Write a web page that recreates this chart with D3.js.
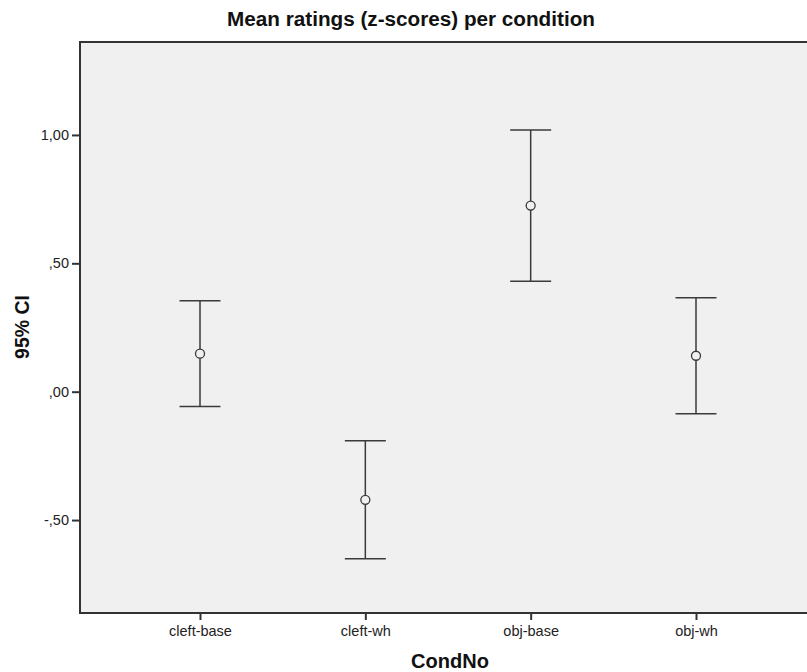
<!DOCTYPE html>
<html>
<head>
<meta charset="utf-8">
<script src="https://cdn.jsdelivr.net/npm/d3@7"></script>
<style>
  body { margin: 0; background: #fff; }
  svg { display: block; font-family: Arial, "Liberation Sans", sans-serif; }
</style>
</head>
<body>
<div id="chart"></div>
<script>
// Data (mean and 95% CI per condition)
const categories = ["cleft-base", "cleft-wh", "obj-base", "obj-wh"];
const means = [0.148, -0.421, 0.725, 0.140];
const ciLower = [-0.058, -0.651, 0.430, -0.086];
const ciUpper = [0.354, -0.191, 1.019, 0.366];
const yTicks = [-0.5, 0, 0.5, 1];
const yExtent = [-0.862, 1.362];

const width = 807, height = 672;
const plot = { left: 80, top: 42, bottom: 613, right: 830 };

const svg = d3.select("#chart")
    .append("svg")
    .attr("width", width)
    .attr("height", height);

const xScale = d3.scalePoint()
    .domain(categories)
    .range([200, 696]);

const yScale = d3.scaleLinear()
    .domain(yExtent)
    .range([plot.bottom, plot.top]);

// SPSS style numbers: 1,00  ,50  ,00  -,50
const spssFormat = v => d3.format(".2f")(v)
    .replace("\u2212", "-")
    .replace(/^(-?)0\./, "$1.")
    .replace(".", ",");

// plot background
svg.append("rect")
    .attr("x", plot.left)
    .attr("y", plot.top)
    .attr("width", plot.right - plot.left)
    .attr("height", plot.bottom - plot.top)
    .attr("fill", "#f0f0f0");

// top frame line
svg.append("line")
    .attr("x1", plot.left)
    .attr("x2", plot.right)
    .attr("y1", plot.top)
    .attr("y2", plot.top)
    .attr("stroke", "#333")
    .attr("stroke-width", 2);

// axes
const xAxis = svg.append("g")
    .attr("transform", `translate(0,${plot.bottom})`)
    .call(d3.axisBottom(xScale).tickSize(7).tickPadding(6));

const yAxis = svg.append("g")
    .attr("transform", `translate(${plot.left},0)`)
    .call(d3.axisLeft(yScale).tickValues(yTicks).tickFormat(spssFormat).tickSize(8).tickPadding(3));

[xAxis, yAxis].forEach(ax => {
    ax.select(".domain").remove();
    ax.selectAll(".tick line").attr("stroke", "#333").attr("stroke-width", 2);
    ax.selectAll(".tick text")
        .attr("fill", "#222")
        .style("font-size", "14.5px")
        .style("font-family", "Arial, 'Liberation Sans', sans-serif");
});

// axis lines
svg.append("line")
    .attr("x1", plot.left).attr("x2", plot.left)
    .attr("y1", plot.top - 1).attr("y2", plot.bottom + 1)
    .attr("stroke", "#333").attr("stroke-width", 2);

svg.append("line")
    .attr("x1", plot.left).attr("x2", plot.right)
    .attr("y1", plot.bottom).attr("y2", plot.bottom)
    .attr("stroke", "#333").attr("stroke-width", 2);

// error bars
const rows = categories.map((c, i) => ({ cat: c, mean: means[i], lo: ciLower[i], hi: ciUpper[i] }));
const capHalf = 20.5;
const barColor = "#3a3a3a";

const bars = svg.append("g").selectAll("g")
    .data(rows)
    .enter()
    .append("g");

bars.append("line")
    .attr("x1", d => xScale(d.cat))
    .attr("x2", d => xScale(d.cat))
    .attr("y1", d => yScale(d.hi))
    .attr("y2", d => yScale(d.lo))
    .attr("stroke", barColor)
    .attr("stroke-width", 1.5);

bars.selectAll(".cap")
    .data(d => [{ cat: d.cat, v: d.hi }, { cat: d.cat, v: d.lo }])
    .enter()
    .append("line")
    .attr("class", "cap")
    .attr("x1", d => xScale(d.cat) - capHalf)
    .attr("x2", d => xScale(d.cat) + capHalf)
    .attr("y1", d => yScale(d.v))
    .attr("y2", d => yScale(d.v))
    .attr("stroke", barColor)
    .attr("stroke-width", 1.5);

bars.append("circle")
    .attr("cx", d => xScale(d.cat))
    .attr("cy", d => yScale(d.mean))
    .attr("r", 4.5)
    .attr("fill", "#f0f0f0")
    .attr("stroke", barColor)
    .attr("stroke-width", 1.3);

// title and axis titles
svg.append("text")
    .attr("x", 411)
    .attr("y", 26)
    .attr("text-anchor", "middle")
    .style("font-size", "20.7px")
    .style("font-weight", "bold")
    .attr("fill", "#111")
    .text("Mean ratings (z-scores) per condition");

svg.append("text")
    .attr("x", 450)
    .attr("y", 668)
    .attr("text-anchor", "middle")
    .style("font-size", "20px")
    .style("font-weight", "bold")
    .attr("fill", "#111")
    .text("CondNo");

svg.append("text")
    .attr("transform", "translate(29,327) rotate(-90)")
    .attr("text-anchor", "middle")
    .style("font-size", "19.5px")
    .style("font-weight", "bold")
    .attr("fill", "#111")
    .text("95% CI");
</script>
</body>
</html>
